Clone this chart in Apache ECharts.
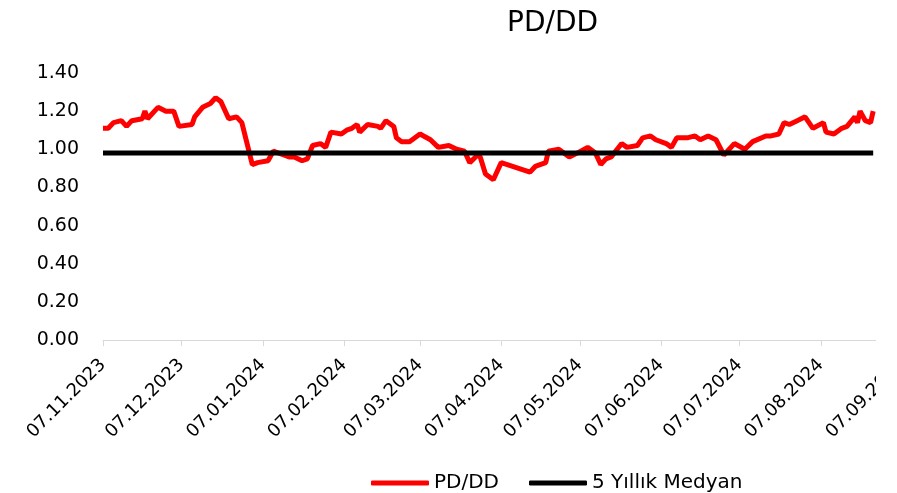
<!DOCTYPE html>
<html lang="tr">
<head>
    <meta charset="UTF-8">
    <title>PD/DD</title>
</head>
<body style="margin:0;">
<div id="echart" style="width: 897px; height: 493px;"></div>

<script src="https://cdn.jsdelivr.net/npm/echarts@6/dist/echarts.min.js"></script>
<script>
    // tarih ve PD/DD değerleri
    var dates = [
        "07.11.2023", "09.11.2023", "11.11.2023", "14.11.2023", "16.11.2023", "18.11.2023",
        "22.11.2023", "23.11.2023", "24.11.2023", "28.11.2023", "01.12.2023", "04.12.2023",
        "06.12.2023", "11.12.2023", "12.12.2023", "15.12.2023", "18.12.2023", "20.12.2023",
        "22.12.2023", "25.12.2023", "28.12.2023", "30.12.2023", "03.01.2024", "05.01.2024",
        "09.01.2024", "11.01.2024", "15.01.2024", "17.01.2024", "19.01.2024", "22.01.2024",
        "24.01.2024", "26.01.2024", "29.01.2024", "31.01.2024", "02.02.2024", "06.02.2024",
        "08.02.2024", "10.02.2024", "12.02.2024", "13.02.2024", "16.02.2024", "20.02.2024",
        "21.02.2024", "23.02.2024", "26.02.2024", "27.02.2024", "29.02.2024", "03.03.2024",
        "07.03.2024", "11.03.2024", "14.03.2024", "18.03.2024", "21.03.2024", "24.03.2024",
        "26.03.2024", "29.03.2024", "30.03.2024", "01.04.2024", "04.04.2024", "07.04.2024",
        "18.04.2024", "20.04.2024", "24.04.2024", "25.04.2024", "29.04.2024", "03.05.2024",
        "06.05.2024", "10.05.2024", "13.05.2024", "15.05.2024", "17.05.2024", "19.05.2024",
        "23.05.2024", "25.05.2024", "29.05.2024", "31.05.2024", "03.06.2024", "05.06.2024",
        "09.06.2024", "11.06.2024", "13.06.2024", "17.06.2024", "20.06.2024", "22.06.2024",
        "25.06.2024", "28.06.2024", "01.07.2024", "05.07.2024", "09.07.2024", "12.07.2024",
        "17.07.2024", "19.07.2024", "22.07.2024", "24.07.2024", "26.07.2024", "29.07.2024",
        "01.08.2024", "04.08.2024", "08.08.2024", "09.08.2024", "12.08.2024", "15.08.2024",
        "17.08.2024", "20.08.2024", "21.08.2024", "22.08.2024", "24.08.2024", "26.08.2024",
        "27.08.2024"
    ];
    var pdDd = [
        1.11, 1.11, 1.14, 1.15, 1.12, 1.15,
        1.16, 1.20, 1.16, 1.22, 1.20, 1.20,
        1.12, 1.13, 1.17, 1.22, 1.24, 1.27,
        1.25, 1.16, 1.17, 1.14, 0.92, 0.93,
        0.94, 0.99, 0.97, 0.96, 0.96, 0.94,
        0.95, 1.02, 1.03, 1.01, 1.09, 1.08,
        1.10, 1.11, 1.13, 1.09, 1.13, 1.12,
        1.11, 1.15, 1.12, 1.06, 1.04, 1.04,
        1.08, 1.05, 1.01, 1.02, 1.00, 0.99,
        0.93, 0.97, 0.96, 0.87, 0.84, 0.93,
        0.88, 0.91, 0.93, 0.99, 1.00, 0.96,
        0.98, 1.01, 0.98, 0.92, 0.95, 0.96,
        1.03, 1.01, 1.02, 1.06, 1.07, 1.05,
        1.03, 1.01, 1.06, 1.06, 1.07, 1.05,
        1.07, 1.05, 0.97, 1.03, 1.00, 1.04,
        1.07, 1.07, 1.08, 1.14, 1.13, 1.15,
        1.17, 1.11, 1.14, 1.09, 1.08, 1.11,
        1.12, 1.17, 1.14, 1.20, 1.15, 1.14,
        1.20
    ];
    var medianValue = 0.98;
    // x ekseni etiketleri
    var tickDates = [
        "07.11.2023", "07.12.2023", "07.01.2024", "07.02.2024", "07.03.2024", "07.04.2024",
        "07.05.2024", "07.06.2024", "07.07.2024", "07.08.2024", "07.09.2024"
    ];

    function parseDate(s) {
        var p = s.split(".");
        return new Date(+p[2], +p[1] - 1, +p[0]).getTime();
    }
    function pad(n) {
        return n < 10 ? "0" + n : "" + n;
    }
    function fmtDate(v) {
        var d = new Date(v);
        return pad(d.getDate()) + "." + pad(d.getMonth() + 1) + "." + d.getFullYear();
    }

    var ticks = tickDates.map(parseDate);
    var pdData = dates.map(function (d, i) {
        return [parseDate(d), pdDd[i]];
    });
    var medianData = [
        [parseDate(dates[0]), medianValue],
        [parseDate(dates[dates.length - 1]), medianValue]
    ];

    var font = "DejaVu Sans";
    var dom = document.getElementById("echart");
    var myChart = echarts.init(dom);
    var option = {
        animation: false,
        backgroundColor: '#fff',
        title: {
            text: 'PD/DD',
            left: 502,
            top: 5,
            textStyle: {
                fontFamily: font,
                fontSize: 28,
                fontWeight: 'normal',
                color: '#000'
            }
        },
        legend: {
            top: 468,
            left: 366,
            itemWidth: 58,
            itemHeight: 5,
            itemGap: 30,
            icon: 'roundRect',
            textStyle: {
                fontFamily: font,
                fontSize: 20,
                color: '#000'
            },
            data: ['PD/DD', '5 Yıllık Medyan']
        },
        grid: {
            left: 103,
            right: -5,
            top: 73,
            bottom: 153,
            outerBoundsMode: 'none'
        },
        xAxis: {
            type: 'value',
            min: ticks[0],
            max: ticks[ticks.length - 1],
            axisLine: {lineStyle: {color: '#d9d9d9', width: 1}},
            axisTick: {
                show: true,
                customValues: ticks,
                length: 6,
                lineStyle: {color: '#d9d9d9'}
            },
            axisLabel: {
                customValues: ticks,
                rotate: 45,
                fontFamily: font,
                fontSize: 18,
                color: '#000',
                margin: 22,
                formatter: function (v) {
                    return fmtDate(v);
                }
            },
            splitLine: {show: false}
        },
        yAxis: {
            type: 'value',
            min: 0,
            max: 1.4,
            interval: 0.2,
            axisLine: {show: false},
            axisTick: {show: false},
            splitLine: {show: false},
            axisLabel: {
                fontFamily: font,
                fontSize: 19,
                color: '#000',
                margin: 24,
                formatter: function (v) {
                    return v.toFixed(2);
                }
            }
        },
        series: [
            {
                name: 'PD/DD',
                type: 'line',
                data: pdData,
                showSymbol: false,
                symbol: 'none',
                itemStyle: {color: '#ff0000'},
                lineStyle: {color: '#ff0000', width: 5}
            },
            {
                name: '5 Yıllık Medyan',
                type: 'line',
                data: medianData,
                showSymbol: false,
                symbol: 'none',
                itemStyle: {color: '#000'},
                lineStyle: {color: '#000', width: 5}
            }
        ],
        graphic: [
            {
                // sağ kenardaki kırpılmış alan
                type: 'rect',
                right: 0,
                top: 60,
                z: 100,
                shape: {width: 21, height: 390},
                style: {fill: '#fff'}
            }
        ]
    };
    myChart.setOption(option, true);
</script>
</body>
</html>
